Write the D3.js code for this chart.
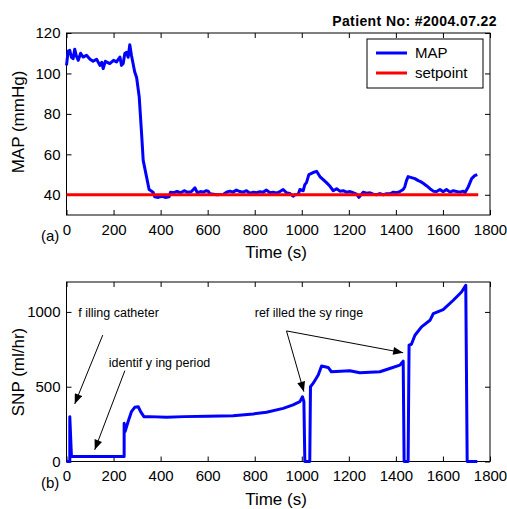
<!DOCTYPE html>
<html>
<head>
<meta charset="utf-8">
<script src="https://cdn.jsdelivr.net/npm/d3@7"></script>
<style>
  body { margin: 0; background: #fff; }
  text { font-family: Arial, "Liberation Sans", Helvetica, sans-serif; fill: #000; }
</style>
</head>
<body>
<svg id="chart" width="507" height="509"></svg>
<script>
// ── Data ─────────────────────────────────────────────────────────────────────
const mapTime  = [0, 7, 14, 21, 28, 35, 42, 50, 60, 71, 85, 100, 113, 128, 142, 150, 156, 165, 184, 200,
                  213, 220, 227, 234, 241, 248, 255, 262, 269, 276, 290, 298, 309, 319, 326, 340, 351, 368,
                  375, 390, 405, 420, 436, 442, 455, 470, 485, 500, 515, 530, 546, 556, 570, 581, 595, 602,
                  610, 640, 666, 680, 694, 708, 722, 737, 751, 765, 780, 794, 808, 822, 836, 850, 865, 879,
                  893, 907, 921, 935, 949, 963, 971, 985, 992, 1006, 1013, 1020, 1030, 1048, 1063, 1077,
                  1091, 1105, 1120, 1134, 1148, 1162, 1176, 1190, 1205, 1219, 1233, 1243, 1261, 1275, 1290,
                  1304, 1318, 1332, 1346, 1361, 1375, 1389, 1403, 1417, 1431, 1438, 1445, 1452, 1466, 1481,
                  1495, 1505, 1516, 1530, 1545, 1559, 1573, 1587, 1601, 1615, 1630, 1644, 1658, 1672, 1686,
                  1694, 1708, 1722, 1735, 1746];
const mapValue = [104, 111, 111.4, 108, 107.3, 112, 108.6, 106.5, 110, 108.1, 109, 107, 106, 107, 104, 105.5, 102.4, 106, 104.9, 106.5,
                  105.7, 107, 108.1, 104, 104.9, 110, 110.4, 108, 114.2, 109, 100.7, 98, 88.5, 70.5, 57, 49, 42.6, 41.3,
                  39, 38.7, 39.2, 38.7, 39, 41.3, 41, 41.6, 41, 42, 41.2, 41.5, 43.4, 41, 41.6, 41.3, 42, 41.8,
                  40.5, 40, 40.2, 41.3, 41.8, 41.3, 42.3, 41.6, 41.3, 42, 40.8, 41.3, 41, 41.5, 41.3, 42.3, 41, 41.3,
                  40.8, 41.6, 42.6, 41, 40.7, 39.3, 40, 40.3, 42.6, 42, 45, 46, 50, 51, 51.6, 49,
                  47.5, 46, 44.2, 42, 43, 41.8, 42, 41.3, 41.6, 41, 40.3, 38.7, 41.3, 40.8, 41,
                  40.3, 40, 40.6, 40, 40.5, 40.5, 41.3, 41, 41.6, 42.6, 44, 47, 49, 48.5, 48,
                  47, 46.5, 45.7, 44.5, 43, 41.8, 41.6, 42.6, 41.5, 42.6, 41.3, 42, 41.6, 41.3, 41.8,
                  41.1, 44, 48, 49.5, 50];

const setpointTime  = [0, 1750];
const setpointValue = [40, 40];

const snpTime  = [0, 14, 14, 21, 245, 245, 249, 262, 276, 290, 305, 315, 329, 354, 425, 500, 600, 708, 794, 850,
                  921, 963, 992, 1003, 1009, 1013, 1034, 1037, 1048, 1070, 1084, 1112, 1126, 1204, 1247, 1332,
                  1374, 1417, 1431, 1435, 1452, 1456, 1466, 1481, 1509, 1545, 1559, 1601, 1644, 1679, 1697,
                  1703, 1746];
const snpValue = [0, 0, 300, 33, 33, 255, 200, 267, 333, 362, 366, 333, 300, 300, 296, 300, 302, 306, 318, 329,
                  355, 378, 400, 433, 400, 0, 0, 500, 522, 578, 638, 629, 600, 607, 593, 600,
                  622, 644, 671, 0, 0, 778, 784, 844, 900, 944, 989, 1015, 1078, 1133, 1178,
                  0, 0];

const xTicks   = [0, 200, 400, 600, 800, 1000, 1200, 1400, 1600, 1800];
const mapTicks = [40, 60, 80, 100, 120];
const snpTicks = [0, 500, 1000];

const legendLabels = ["MAP", "setpoint"];
const legendColors = ["#0000ff", "#ff0000"];

// annotation label position and arrow [from, to] points, in data units (time, SNP)
const noteText   = ["f illing catheter", "identif y ing period", "ref illed the sy ringe"];
const noteAnchor = [[50, 965], [180, 630], [800, 965]];
const noteArrows = [
  [[[154, 845], [35, 385]]],
  [[[248, 607], [120, 78]]],
  [[[935, 873], [1009, 467]], [[935, 873], [1431, 727]]],
];

// ── Layout ───────────────────────────────────────────────────────────────────
const svg = d3.select("#chart");
svg.append("rect").attr("width", 507).attr("height", 509).attr("fill", "#fff");

const left = 66.5, right = 490;
const x = d3.scaleLinear().domain([0, 1800]).range([left, right]);

const yMap = d3.scaleLinear().domain([30, 120]).range([215, 33]);
const ySnp = d3.scaleLinear().domain([0, 1200]).range([461.5, 282]);

const fmt = d3.format("d");

svg.append("defs").append("marker")
  .attr("id", "arrowhead")
  .attr("viewBox", "0 -4 10 8")
  .attr("refX", 10).attr("refY", 0)
  .attr("markerUnits", "userSpaceOnUse")
  .attr("markerWidth", 11).attr("markerHeight", 8)
  .attr("orient", "auto")
  .append("path").attr("d", "M0,-4L10,0L0,4Z").attr("fill", "#000");

function drawFrame(y, yTicks, panel) {
  const g = svg.append("g");
  const [y0, y1] = y.range();

  g.append("g").attr("transform", `translate(0,${y0})`)
    .call(d3.axisBottom(x).tickValues(xTicks).tickFormat(fmt)
      .tickSizeInner(-5).tickSizeOuter(0).tickPadding(9))
    .call(a => a.select(".domain").remove())
    .selectAll("text").attr("font-size", 15);
  g.append("g").attr("transform", `translate(0,${y1})`)
    .call(d3.axisTop(x).tickValues(xTicks).tickSizeInner(-5).tickSizeOuter(0).tickFormat(""))
    .call(a => a.select(".domain").remove());
  g.append("g").attr("transform", `translate(${left},0)`)
    .call(d3.axisLeft(y).tickValues(yTicks).tickFormat(fmt)
      .tickSizeInner(-5).tickSizeOuter(0).tickPadding(6))
    .call(a => a.select(".domain").remove())
    .selectAll("text").attr("font-size", 15);
  g.append("g").attr("transform", `translate(${right},0)`)
    .call(d3.axisRight(y).tickValues(yTicks).tickSizeInner(-5).tickSizeOuter(0).tickFormat(""))
    .call(a => a.select(".domain").remove());
  g.selectAll("text").attr("font-family", "Arial, 'Liberation Sans', sans-serif");

  g.append("rect")
    .attr("x", left).attr("y", y1).attr("width", right - left).attr("height", y0 - y1)
    .attr("fill", "none").attr("stroke", "#000").attr("stroke-width", 1);

  g.append("text").attr("x", 276).attr("y", y0 + 43)
    .attr("text-anchor", "middle").attr("font-size", 17).text("Time (s)");
  g.append("text").attr("x", 41).attr("y", y0 + 26)
    .attr("font-size", 15).text(panel);
  return g;
}

// ── Panel (a): MAP ───────────────────────────────────────────────────────────
drawFrame(yMap, mapTicks, "(a)");

svg.append("text")
  .attr("transform", "translate(24,122) rotate(-90)")
  .attr("text-anchor", "middle").attr("font-size", 17).text("MAP (mmHg)");

svg.append("text").attr("x", 497).attr("y", 26)
  .attr("text-anchor", "end").attr("font-size", 14).attr("font-weight", "bold")
  .attr("letter-spacing", 0.4)
  .text("Patient No: #2004.07.22");

const mapLine = d3.line().x(d => x(d[0])).y(d => yMap(d[1]));
svg.append("path")
  .attr("d", mapLine(d3.zip(mapTime, mapValue)))
  .attr("fill", "none").attr("stroke", "#0000ff").attr("stroke-width", 3)
  .attr("stroke-linejoin", "round");
svg.append("path")
  .attr("d", mapLine(d3.zip(setpointTime, setpointValue)))
  .attr("fill", "none").attr("stroke", "#ff0000").attr("stroke-width", 3);

// legend
const legend = svg.append("g");
legend.append("rect").attr("x", 367).attr("y", 39).attr("width", 116).attr("height", 49)
  .attr("fill", "#fff").attr("stroke", "#000").attr("stroke-width", 1);
legendLabels.forEach((lab, i) => {
  const ly = 53 + i * 20;
  legend.append("line").attr("x1", 376).attr("x2", 407).attr("y1", ly).attr("y2", ly)
    .attr("stroke", legendColors[i]).attr("stroke-width", 3);
  legend.append("text").attr("x", 415).attr("y", ly + 5).attr("font-size", 15).text(lab);
});

// ── Panel (b): SNP ───────────────────────────────────────────────────────────
drawFrame(ySnp, snpTicks, "(b)");

svg.append("text")
  .attr("transform", "translate(24,372) rotate(-90)")
  .attr("text-anchor", "middle").attr("font-size", 17).text("SNP (ml/hr)");

const snpLine = d3.line().x(d => x(d[0])).y(d => ySnp(d[1]));
svg.append("path")
  .attr("d", snpLine(d3.zip(snpTime, snpValue)))
  .attr("fill", "none").attr("stroke", "#0000ff").attr("stroke-width", 3)
  .attr("stroke-linejoin", "round");

// annotations
noteText.forEach((t, i) => {
  svg.append("text")
    .attr("x", x(noteAnchor[i][0])).attr("y", ySnp(noteAnchor[i][1]))
    .attr("font-size", 12.5).text(t);
  noteArrows[i].forEach(([from, to]) => {
    svg.append("line")
      .attr("x1", x(from[0])).attr("y1", ySnp(from[1]))
      .attr("x2", x(to[0])).attr("y2", ySnp(to[1]))
      .attr("stroke", "#000").attr("stroke-width", 1)
      .attr("marker-end", "url(#arrowhead)");
  });
});
</script>
</body>
</html>
